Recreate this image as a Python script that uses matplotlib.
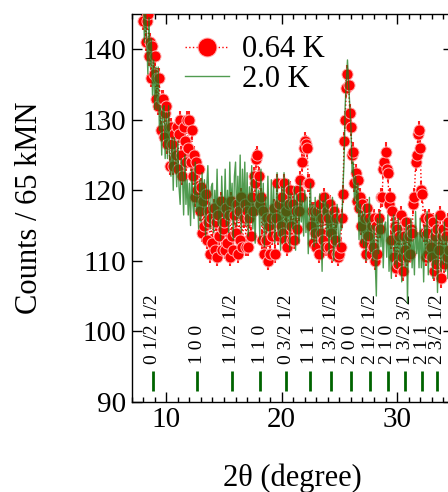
#Neutron powder diffraction: 0.64 K vs 2.0 K

#Import the libraries
import numpy as np
import matplotlib
matplotlib.use('Agg')
import matplotlib.pyplot as plt
from matplotlib.ticker import MultipleLocator

plt.rcParams['font.family'] = ['Liberation Serif', 'DejaVu Serif']

#Scan angles (2theta, 0.1 degree step, 7.8 -> 34.5)
two_theta = np.round(np.arange(7.8, 34.55, 0.1), 1)

#Counts at 0.64 K
counts_064 = [149, 146,
    144, 147, 141, 144, 145, 139, 141, 136, 140.5, 136.5,  # 8
    139, 133, 136, 132, 136, 128.5, 133, 133, 127.5, 131,  # 9
    132, 126.5, 129, 123.5, 129, 126.5, 123.5, 128, 125, 129,  # 10
    123, 128, 130, 125, 122, 129, 127, 124, 130, 126,  # 11
    130, 124, 128.5, 122, 125, 119, 124, 120, 123, 117,  # 12
    120.5, 114, 118.5, 115, 119.5, 113, 115.5, 117, 111, 116,  # 13
    112.5, 117.5, 111.5, 115.5, 110.5, 116.5, 113.5, 118.5, 111.5, 114.5,  # 14
    115.5, 111.5, 117.5, 112.5, 116.5, 110.5, 118.5, 113.5, 111.5, 116.5,  # 15
    114, 118, 111, 117, 113, 119, 112, 116, 118, 112,  # 16
    117, 112, 116, 113.5, 119, 117, 122, 121, 124.5, 125,  # 17
    122, 118, 119, 113, 117, 111, 113, 116, 110, 115,  # 18
    111, 116, 113.5, 117.5, 111, 116, 121, 113.5, 118, 115,  # 19
    119, 114, 121, 113, 117, 112, 118, 120, 115, 113,  # 20
    118, 113, 117, 114.5, 120, 117, 121.5, 119, 124, 126,  # 21
    127, 126.5, 126, 121, 121, 115, 117, 112.5, 117, 114,  # 22
    112, 117, 111, 118, 114, 116, 113, 119, 112, 117,  # 23
    116, 112, 118, 114, 111, 117, 113, 116, 111, 110.5,  # 24
    111, 112, 116, 119.5, 127, 130, 134.5, 136.5, 135, 131,  # 25
    129, 125, 125.5, 121, 122.5, 118.5, 121.5, 117.5, 119, 115,  # 26
    118, 112.5, 116, 111, 117.5, 113.5, 116, 111, 115, 112,  # 27
    116, 110, 115, 111, 116, 114.5, 119, 119, 123, 124,  # 28
    125.5, 123, 122.5, 118, 119, 113, 117, 110.5, 115, 109,  # 29
    114.5, 109.5, 113.5, 116.5, 110.5, 108.5, 113.5, 111.5, 115.5, 110.5,  # 30
    113.5, 111, 114.5, 114, 118, 119, 124, 125, 128, 128.5,  # 31
    126, 120, 119.5, 114, 116, 110.5, 114, 111, 116, 112,  # 32
    110.5, 115.5, 108.5, 113.5, 109.5, 114.5, 111.5, 116.5, 107.5, 113.5,  # 33
    114.5, 109.5, 113.5, 110.5, 115.5, 111.5]  # 34
err_064 = 1.3

#Counts at 2.0 K
counts_20 = [150, 147,
    149, 141, 145.5, 141.5, 136.5, 144.5, 137.5, 141.5, 133.5, 138.5,  # 8
    131.5, 137.5, 131.5, 137.5, 128.5, 132, 125, 131.5, 132, 124.5,  # 9
    131, 124.5, 132, 124.5, 122, 127.5, 120, 127.5, 125, 120.5,  # 10
    127, 120.5, 118, 124.5, 122, 116.5, 125, 118, 121.5, 116.5,  # 11
    121, 115, 123, 118, 116, 124, 117, 119.5, 114.5, 121.5,  # 12
    115.5, 122.5, 116.5, 121.5, 113.5, 120.5, 123.5, 117.5, 114.5, 120.5,  # 13
    121, 114, 120, 116, 123, 115, 119, 113, 122, 117,  # 14
    116, 123, 115, 120, 114, 124, 117, 121, 113, 122,  # 15
    124, 115, 122, 116, 125, 114, 123, 117, 124, 115,  # 16
    122.5, 113.5, 120.5, 115.5, 123.5, 114.5, 118.5, 112.5, 121.5, 116.5,  # 17
    120, 113, 123, 115, 121, 112, 119, 114, 122, 116,  # 18
    113.5, 121.5, 114.5, 120.5, 112.5, 117.5, 122.5, 113.5, 118.5, 111.5,  # 19
    120.5, 113.5, 122.5, 112.5, 118.5, 114.5, 121.5, 111.5, 119.5, 115.5,  # 20
    114.5, 120.5, 111.5, 119.5, 117.5, 112.5, 121.5, 115.5, 118.5, 113.5,  # 21
    120, 114, 119, 111, 117, 121, 113, 118, 112, 119,  # 22
    112.5, 117.5, 113.5, 119.5, 114.5, 108.5, 118.5, 116.5, 119.5, 113.5,  # 23
    118, 111, 117, 113, 119, 110, 116, 112, 118, 114,  # 24
    112, 116, 114.5, 120, 124, 132, 135.5, 138.5, 135, 132,  # 25
    129, 122.5, 124, 118.5, 122, 117, 121, 113, 118, 112.5,  # 26
    117, 112, 118, 110, 116, 113, 119, 111, 115, 110,  # 27
    115, 110, 105, 116, 111, 117, 112, 116, 109, 115,  # 28
    115.5, 110.5, 116.5, 108.5, 113.5, 107.5, 114.5, 116.5, 109.5, 113.5,  # 29
    109, 116, 110, 115, 107, 113, 114, 109, 116, 104,  # 30
    115, 110, 116, 109, 113, 108, 117, 111, 114, 109,  # 31
    116, 109, 114, 107, 115, 111, 117, 108, 113, 110,  # 32
    114.5, 107.5, 113.5, 109.5, 116.5, 105.5, 112.5, 114.5, 108.5, 113.5,  # 33
    109.5, 115.5, 108.5, 113.5, 107.5, 114.5]  # 34

#Reflection positions and indices
hkl_pos = [8.84, 12.68, 15.67, 18.14, 20.38, 22.42, 24.31, 25.99, 27.68, 29.19, 30.70, 32.16, 33.49]
hkl_labels = ['0 1/2 1/2', '1 0 0', '1 1/2 1/2', '1 1 0', '0 3/2 1/2', '1 1 1', '1 3/2 1/2',
              '2 0 0', '2 1/2 1/2', '2 1 0', '1 3/2 3/2', '2 1 1', '2 3/2 1/2']

#Make the figure
fig = plt.figure(figsize=(4.48, 4.92), dpi=100)
ax = fig.add_axes([131.7/448, 0.1835, (452.5-131.7)/448, 0.7878])

#0.64 K: error bars, then markers with dotted line
ax.errorbar(two_theta, counts_064, yerr=err_064, fmt='none', ecolor='#ff2020', elinewidth=1.5, capsize=0, zorder=2)
ax.plot(two_theta, counts_064, ls=':', lw=1, color='red', marker='o', ms=8,
        mfc='red', mec='#ffb0b0', mew=0.7, label='0.64 K', zorder=3)
#2.0 K
ax.plot(two_theta, counts_20, color='#167a16', lw=1, alpha=0.75, label='2.0 K', zorder=4)

#Reflection markers
ax.vlines(hkl_pos, 91.5, 94.4, color='#006400', lw=2)
for p, lab in zip(hkl_pos, hkl_labels):
    ax.text(p, 95.4, lab, rotation=90, ha='center', va='bottom', fontsize=14)

ax.set_xlim(7, 34.8)
ax.set_ylim(90, 145)
ax.set_yticks([90, 100, 110, 120, 130, 140])
ax.xaxis.set_major_locator(MultipleLocator(10))
ax.xaxis.set_minor_locator(MultipleLocator(1))
ax.tick_params(which='both', direction='in', top=True, right=True, width=1, labelsize=21, pad=4)
ax.tick_params(which='major', length=7)
ax.tick_params(which='minor', length=3.5)
for s in ax.spines.values():
    s.set_linewidth(1)

ax.set_xlabel('2\u03b8 (degree)', fontsize=22, labelpad=22)
ax.set_ylabel('Counts / 65 kMN', fontsize=22, labelpad=28)

ax.legend(loc='upper left', bbox_to_anchor=(0.166, 0.945), frameon=False, fontsize=22,
          handlelength=1.45, handletextpad=0.43, borderpad=0, borderaxespad=0,
          labelspacing=0.02, markerscale=1.7)

plt.savefig('out.png', dpi=100)
